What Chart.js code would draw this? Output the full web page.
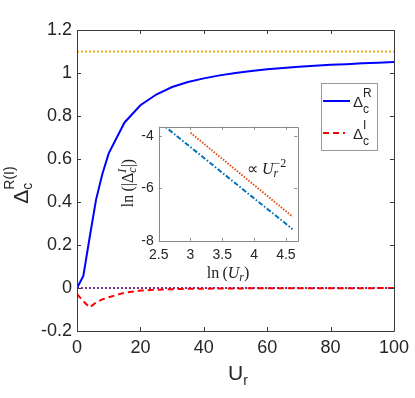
<!DOCTYPE html>
<html>
<head>
<meta charset="utf-8">
<script src="https://cdn.jsdelivr.net/npm/chart.js@4/dist/chart.umd.min.js"></script>
<style>
  html, body { margin: 0; padding: 0; background: #ffffff; }
  #wrap { position: relative; width: 415px; height: 398px; }
  #main { position: absolute; left: 0; top: 0; }
  #inset { position: absolute; left: 100px; top: 110px; }
</style>
</head>
<body>
<div id="wrap">
  <canvas id="main" width="415" height="398"></canvas>
  <canvas id="inset" width="210" height="180"></canvas>
</div>
<script>
// ---------------- data ----------------
const ur = [0, 2, 4, 6, 8, 10, 15, 20, 25, 30, 35, 40, 45, 50, 55, 60, 65, 70, 75, 80, 85, 90, 95, 100];
const deltaR = [0, 0.056, 0.236, 0.41, 0.53, 0.626, 0.77, 0.85, 0.90, 0.935, 0.958, 0.975, 0.989, 1.0, 1.009, 1.017, 1.023, 1.029, 1.034, 1.038, 1.041, 1.045, 1.048, 1.051];
const deltaI = [-0.028, -0.062, -0.09, -0.068, -0.053, -0.043, -0.022, -0.012, -0.0078, -0.0055, -0.004, -0.0031, -0.0025, -0.002, -0.0016, -0.0014, -0.0012, -0.001, -0.0009, -0.0008, -0.0007, -0.0006, -0.00058, -0.00052];
const refX = [0, 100];
const upperRef = [1.1, 1.1];
const zeroRef = [0, 0];
const mainXTicks = [0, 20, 40, 60, 80, 100];
const mainYTicks = [-0.2, 0, 0.2, 0.4, 0.6, 0.8, 1, 1.2];

const lnU = [2.4, 2.5, 3.0, 3.5, 4.0, 4.5, 4.605];
const lnAbsDeltaI = [-3.24, -3.44, -4.42, -5.40, -6.38, -7.35, -7.56];
const lnUFit = [3.0, 3.5, 4.0, 4.605];
const lnFit = [-3.87, -4.87, -5.87, -7.08];
const insetXTicks = [2.5, 3, 3.5, 4, 4.5];
const insetYTicks = [-8, -6, -4];

// ---------------- helpers ----------------
function pts(xs, ys) { return xs.map((x, i) => ({ x: x, y: ys[i] })); }

function layoutRich(ctx, parts) {
  let x = 0, prevStart = 0, prevW = 0;
  const items = [];
  for (const p of parts) {
    ctx.font = p.f;
    const w = ctx.measureText(p.t).width;
    let sx;
    if (p.same) {
      sx = prevStart;
      x = Math.max(prevStart + prevW, sx + w);
    } else {
      sx = x;
      x = sx + w;
    }
    items.push({ t: p.t, f: p.f, dy: p.dy || 0, x: sx, c: p.c });
    prevStart = sx; prevW = w;
  }
  return { items: items, width: x };
}
function drawRich(ctx, parts, x, y, align, color) {
  const L = layoutRich(ctx, parts);
  let x0 = x;
  if (align === 'center') x0 = x - L.width / 2;
  ctx.textAlign = 'left';
  ctx.textBaseline = 'alphabetic';
  for (const it of L.items) {
    ctx.font = it.f;
    ctx.fillStyle = it.c || color;
    ctx.fillText(it.t, x0 + it.x, y + it.dy);
  }
}

function frameTicks(chart, color, tickLen, xt, yt) {
  const ctx = chart.ctx, a = chart.chartArea;
  const xs = chart.scales.x, ys = chart.scales.y;
  ctx.save();
  ctx.strokeStyle = color;
  ctx.lineWidth = 1;
  ctx.beginPath();
  ctx.rect(Math.round(a.left) + 0.5, Math.round(a.top) + 0.5, Math.round(a.right - a.left), Math.round(a.bottom - a.top));
  for (const v of xt) {
    const px = Math.round(xs.getPixelForValue(v)) + 0.5;
    ctx.moveTo(px, a.bottom); ctx.lineTo(px, a.bottom - tickLen);
    ctx.moveTo(px, a.top); ctx.lineTo(px, a.top + tickLen);
  }
  for (const v of yt) {
    const py = Math.round(ys.getPixelForValue(v)) + 0.5;
    ctx.moveTo(a.left, py); ctx.lineTo(a.left + tickLen, py);
    ctx.moveTo(a.right, py); ctx.lineTo(a.right - tickLen, py);
  }
  ctx.stroke();
  ctx.restore();
}

// ---------------- main chart ----------------
const SANS = '"Liberation Sans", Arial, Helvetica, sans-serif';
const SERIF = '"Liberation Serif", "Times New Roman", serif';

const mainPlugin = {
  id: 'mainDecor',
  afterDraw(chart) {
    const ctx = chart.ctx;
    frameTicks(chart, '#3a3a3a', 4, mainXTicks, mainYTicks);
    // x-axis title
    drawRich(ctx, [
      { t: 'U', f: '21px ' + SANS },
      { t: 'r', f: '14px ' + SANS, dy: 5 }
    ], 238, 380, 'center', '#262626');
    // y-axis title (rotated)
    ctx.save();
    ctx.translate(28, 185);
    ctx.rotate(-Math.PI / 2);
    drawRich(ctx, [
      { t: 'Δ', f: '21px ' + SANS },
      { t: 'c', f: '14px ' + SANS, dy: 4 },
      { t: 'R(I)', f: '14px ' + SANS, dy: -14, same: true }
    ], 0, 0, 'center', '#262626');
    ctx.restore();
    // legend
    ctx.save();
    ctx.fillStyle = '#ffffff';
    ctx.fillRect(321, 83, 56, 67);
    ctx.strokeStyle = '#9a9a9a';
    ctx.lineWidth = 1;
    ctx.strokeRect(321.5, 83.5, 56, 67);
    ctx.lineWidth = 2;
    ctx.strokeStyle = '#0000ff';
    ctx.beginPath(); ctx.moveTo(323, 101); ctx.lineTo(350, 101); ctx.stroke();
    ctx.strokeStyle = '#ff0000';
    ctx.setLineDash([6, 4]);
    ctx.beginPath(); ctx.moveTo(323, 133); ctx.lineTo(345, 133); ctx.stroke();
    ctx.setLineDash([]);
    drawRich(ctx, [
      { t: 'Δ', f: '15px ' + SANS },
      { t: 'c', f: '12px ' + SANS, dy: 6 },
      { t: 'R', f: '12px ' + SANS, dy: -10, same: true }
    ], 353, 107, 'left', '#262626');
    drawRich(ctx, [
      { t: 'Δ', f: '15px ' + SANS },
      { t: 'c', f: '12px ' + SANS, dy: 6 },
      { t: 'I', f: '12px ' + SANS, dy: -10, same: true }
    ], 353, 138.5, 'left', '#262626');
    ctx.restore();
  }
};

new Chart(document.getElementById('main'), {
  type: 'line',
  data: {
    datasets: [
      { data: pts(ur, deltaR), borderColor: '#0000ff', borderWidth: 2, pointRadius: 0, tension: 0, fill: false },
      { data: pts(ur, deltaI), borderColor: '#ff0000', borderWidth: 2, borderDash: [6, 4], pointRadius: 0, tension: 0, fill: false },
      { data: pts(refX, zeroRef), borderColor: '#7e2f8e', borderWidth: 2, borderDash: [2, 2], pointRadius: 0, fill: false },
      { data: pts(refX, upperRef), borderColor: '#edb120', borderWidth: 2, borderDash: [2, 2], pointRadius: 0, fill: false }
    ]
  },
  options: {
    responsive: false,
    animation: false,
    devicePixelRatio: 1,
    layout: { padding: { left: 0, top: 30, right: 16.5, bottom: 0 } },
    plugins: { legend: { display: false }, tooltip: { enabled: false } },
    scales: {
      x: {
        type: 'linear', min: 0, max: 100,
        grid: { display: false, drawTicks: false }, border: { display: false },
        afterBuildTicks: s => { s.ticks = mainXTicks.map(v => ({ value: v })); },
        afterFit: s => { s.height = 67; },
        ticks: { font: { family: SANS, size: 18 }, color: '#262626', padding: 6, maxRotation: 0, autoSkip: false,
          callback: v => String(v) }
      },
      y: {
        type: 'linear', min: -0.2, max: 1.2,
        grid: { display: false, drawTicks: false }, border: { display: false },
        afterBuildTicks: s => { s.ticks = mainYTicks.map(v => ({ value: v })); },
        afterFit: s => { s.width = 77; },
        ticks: { font: { family: SANS, size: 18 }, color: '#262626', padding: 5, autoSkip: false,
          callback: v => String(Math.round(v * 10) / 10) }
      }
    }
  },
  plugins: [mainPlugin]
});

// ---------------- inset chart ----------------
const insetPlugin = {
  id: 'insetDecor',
  beforeDatasetsDraw(chart) {
    const ctx = chart.ctx, a = chart.chartArea;
    ctx.save();
    ctx.fillStyle = '#ffffff';
    ctx.fillRect(a.left, a.top, a.right - a.left, a.bottom - a.top);
    ctx.restore();
  },
  afterDraw(chart) {
    const ctx = chart.ctx;
    frameTicks(chart, '#8a8a8a', 3, insetXTicks, insetYTicks);
    // annotation  ∝ U_r^{-2}
    drawRich(ctx, [
      { t: '∝ ', f: '16px ' + SERIF },
      { t: 'U', f: 'italic 16px ' + SERIF },
      { t: 'r', f: 'italic 12px ' + SERIF, dy: 3 },
      { t: '−2', f: '12px ' + SERIF, dy: -7, same: true }
    ], 147, 64, 'left', '#222222');
    // x label ln(U_r)
    drawRich(ctx, [
      { t: 'ln\u2009(', f: '16px ' + SERIF },
      { t: 'U', f: 'italic 16px ' + SERIF },
      { t: 'r', f: 'italic 12px ' + SERIF, dy: 3 },
      { t: ')', f: '16px ' + SERIF }
    ], 128, 168, 'center', '#222222');
    // y label ln(|Δ_c^I|)
    ctx.save();
    ctx.translate(33, 73);
    ctx.rotate(-Math.PI / 2);
    drawRich(ctx, [
      { t: 'ln\u2009(|', f: '16px ' + SERIF },
      { t: 'Δ', f: '16px ' + SERIF },
      { t: 'c', f: 'italic 12px ' + SERIF, dy: 3 },
      { t: 'I', f: 'italic 12px ' + SERIF, dy: -7, same: true },
      { t: '|)', f: '16px ' + SERIF }
    ], 0, 0, 'center', '#222222');
    ctx.restore();
  }
};

new Chart(document.getElementById('inset'), {
  type: 'line',
  data: {
    datasets: [
      { data: pts(lnU, lnAbsDeltaI), borderColor: '#0072bd', borderWidth: 2, borderDash: [5, 2, 1.5, 2], pointRadius: 0, tension: 0, fill: false },
      { data: pts(lnUFit, lnFit), borderColor: '#d95319', borderWidth: 2, borderDash: [1.5, 1.5], pointRadius: 0, tension: 0, fill: false }
    ]
  },
  options: {
    responsive: false,
    animation: false,
    devicePixelRatio: 1,
    layout: { padding: { left: 0, top: 16.7, right: 12.7, bottom: 0 } },
    plugins: { legend: { display: false }, tooltip: { enabled: false } },
    scales: {
      x: {
        type: 'linear', min: 2.5, max: 4.68,
        grid: { display: false, drawTicks: false }, border: { display: false },
        afterBuildTicks: s => { s.ticks = insetXTicks.map(v => ({ value: v })); },
        afterFit: s => { s.height = 49.3; },
        ticks: { font: { family: SANS, size: 14 }, color: '#262626', padding: 6, maxRotation: 0, autoSkip: false,
          callback: v => String(v) }
      },
      y: {
        type: 'linear', min: -8, max: -3.64,
        grid: { display: false, drawTicks: false }, border: { display: false },
        afterBuildTicks: s => { s.ticks = insetYTicks.map(v => ({ value: v })); },
        afterFit: s => { s.width = 58.7; },
        ticks: { font: { family: SANS, size: 14 }, color: '#262626', padding: 5, autoSkip: false,
          callback: v => String(v) }
      }
    }
  },
  plugins: [insetPlugin]
});
</script>
</body>
</html>
